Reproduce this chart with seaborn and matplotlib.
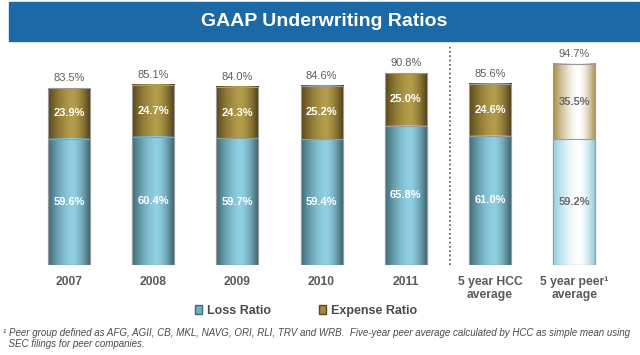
import numpy as np
import pandas as pd
import matplotlib
matplotlib.use('Agg')
import matplotlib.pyplot as plt
from matplotlib.patches import Rectangle, Patch
import matplotlib.colors as mcolors
import seaborn as sns

# data
cats = ['2007', '2008', '2009', '2010', '2011', '5 year HCC\naverage', '5 year peer\u00b9\naverage']
loss = [59.6, 60.4, 59.7, 59.4, 65.8, 61.0, 59.2]
expense = [23.9, 24.7, 24.3, 25.2, 25.0, 24.6, 35.5]
total = [83.5, 85.1, 84.0, 84.6, 90.8, 85.6, 94.7]

df = pd.DataFrame({'cat': cats, 'loss': loss, 'expense': expense, 'total': total})

sns.set_style('white')
plt.rcParams['font.family'] = ['Liberation Sans', 'DejaVu Sans']

fig = plt.figure(figsize=(6.4, 3.55), dpi=100)
ax = fig.add_axes([26.9 / 640, 90 / 355, 589.4 / 640, 212 / 355])

sns.barplot(data=df, x='cat', y='total', color='#A08A3C', width=0.5, ax=ax, zorder=1)
sns.barplot(data=df, x='cat', y='loss', color='#7BBFD0', width=0.5, ax=ax, zorder=2)


def grad_row(edge_l, mid, edge_r, peak=0.58, n=64):
    t = np.linspace(0, 1, n)
    el = np.array(mcolors.to_rgb(edge_l))
    er = np.array(mcolors.to_rgb(edge_r))
    m = np.array(mcolors.to_rgb(mid))
    out = np.zeros((1, n, 3))
    for i, v in enumerate(t):
        if v <= peak:
            g = 1 - ((peak - v) / peak) ** 1.6
            out[0, i] = el + (m - el) * g
        else:
            g = 1 - ((v - peak) / (1 - peak)) ** 1.6
            out[0, i] = er + (m - er) * g
    return out


blue = grad_row('#3F6A77', '#8FD0E2', '#3A5C68')
gold = grad_row('#5A481B', '#B39C4A', '#4C3D17')
blue_peer = grad_row('#8FD0E2', '#FFFFFF', '#86C7D9', peak=0.6)
gold_peer = grad_row('#A68D3E', '#FFFFFF', '#A68E48', peak=0.6)

n = len(cats)
bars = ax.patches
for i, p in enumerate(bars):
    x0, w = p.get_x(), p.get_width()
    h = p.get_height()
    is_loss = i >= n
    k = i % n
    peer = k == n - 1
    if is_loss:
        img = blue_peer if peer else blue
        y0, y1 = 0, h
        z = 2
    else:
        img = gold_peer if peer else gold
        y0, y1 = loss[k], h
        z = 1
    ax.imshow(img, extent=(x0, x0 + w, y0, y1), aspect='auto',
              interpolation='bilinear', zorder=z)
    p.set_facecolor('none')
    p.set_edgecolor('#9A9A9A')
    p.set_linewidth(0.8)
    p.set_zorder(3)

# value labels
for k in range(n):
    peer = k == n - 1
    inner = '#6A6A6A' if peer else 'white'
    ax.text(k, loss[k] / 2, f'{loss[k]:.1f}%', ha='center', va='center',
            color=inner, fontsize=8, fontweight='bold', zorder=5)
    ax.text(k, loss[k] + expense[k] / 2, f'{expense[k]:.1f}%', ha='center', va='center',
            color=inner, fontsize=8, fontweight='bold', zorder=5)
    ax.annotate(f'{total[k]:.1f}%', (k, total[k]), xytext=(0, 7.2), textcoords='offset points',
                ha='center', va='center', color='#5E5E5E', fontsize=8, zorder=5)

# dotted separator
ax.plot([4.52, 4.52], [0, 102.8], color='#555555', lw=1.2, ls=(0, (1, 1.6)), clip_on=False)

ax.set_xlim(-0.5, n - 0.5)
ax.set_ylim(0, 100)
ax.set_xlabel('')
ax.set_ylabel('')
ax.set_yticks([])
ax.tick_params(axis='x', length=0, pad=8, labelsize=8.7, labelcolor='#5A5A5A')
for lab in ax.get_xticklabels():
    lab.set_fontweight('bold')
    lab.set_linespacing(1.15)
sns.despine(ax=ax, left=True, bottom=True)

# legend
handles = [Patch(facecolor='#6FAFC0', edgecolor='#3F6A77', label='Loss Ratio'),
           Patch(facecolor='#A08A3C', edgecolor='#5A481B', label='Expense Ratio')]
leg = fig.legend(handles=handles, loc='center', bbox_to_anchor=(0.478, 1 - 311 / 355),
                 ncol=2, frameon=False, handlelength=0.6, handleheight=0.7,
                 handletextpad=0.4, columnspacing=3.8,
                 prop={'size': 9, 'weight': 'bold'})
for t in leg.get_texts():
    t.set_color('#4A4A4A')

# title banner
fig.patches.append(Rectangle((9 / 640, 1 - 41 / 355), 630 / 640, 39 / 355,
                             transform=fig.transFigure, color='#1B69A6', zorder=0))
fig.text(324 / 640, 1 - 22 / 355, 'GAAP Underwriting Ratios', ha='center', va='center',
         color='white', fontsize=14, fontweight='bold')

# footnote
fig.text(3 / 640, 1 - 338.5 / 355,
         '\u00b9 Peer group defined as AFG, AGII, CB, MKL, NAVG, ORI, RLI, TRV and WRB.  '
         'Five-year peer average calculated by HCC as simple mean using\n'
         '  SEC filings for peer companies.',
         ha='left', va='center', fontsize=7.05, style='italic', color='#4A4A4A',
         linespacing=1.15)

plt.savefig('out.png', dpi=100)
plt.close('all')
